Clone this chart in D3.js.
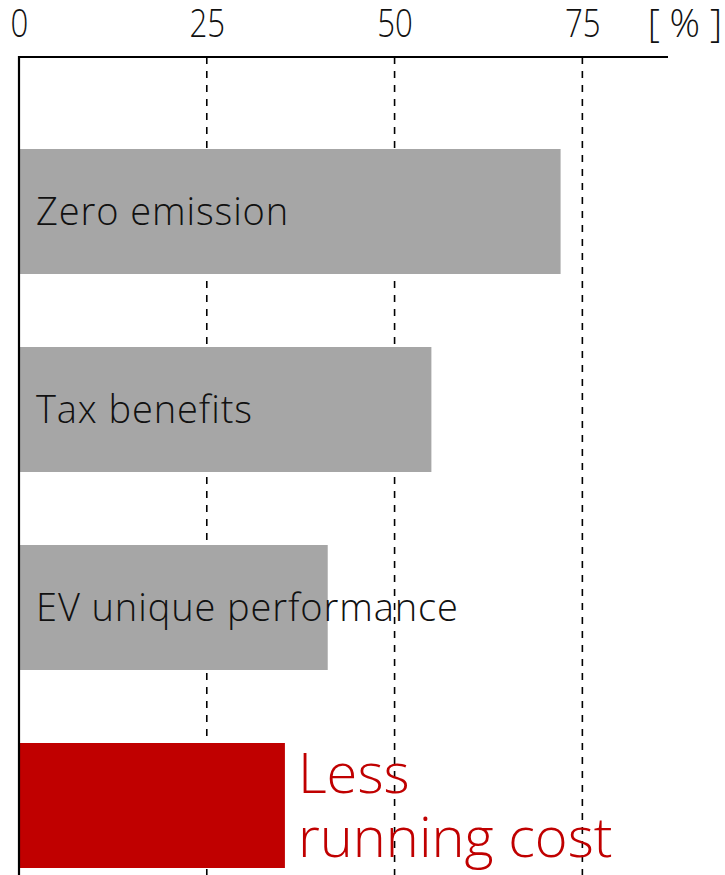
<!DOCTYPE html>
<html>
<head>
<meta charset="utf-8">
<script src="https://cdn.jsdelivr.net/npm/d3@7"></script>
<style>
  html, body { margin: 0; padding: 0; background: #fff; }
  svg { display: block; }
</style>
</head>
<body>
<svg id="chart" width="725" height="875"></svg>
<script>
// Reasons for choosing an EV, share of respondents [%]
const categories = ["Zero emission", "Tax benefits", "EV unique performance", "Less running cost"];
const values = [72.1, 54.9, 41.1, 35.4];
const tickValues = [0, 25, 50, 75];
const unitLabel = "[ % ]";
const highlightLines = ["Less", "running cost"];

const W = 725, H = 875;
const svg = d3.select("#chart");

const x = d3.scaleLinear().domain([0, 86.4]).range([19, 668]);
const y = d3.scaleBand()
  .domain(categories)
  .range([112.5, 904.5])
  .paddingInner(73 / 198)
  .paddingOuter(73 / 396);

const axisTop = 57;
const gray = "#a6a6a6";
const red = "#c00000";
const labelFont = "'Open Sans', 'Noto Sans', sans-serif";

// dashed gridlines
svg.append("g")
  .selectAll("line")
  .data(tickValues.filter(d => d > 0))
  .join("line")
  .attr("x1", d => x(d)).attr("x2", d => x(d))
  .attr("y1", axisTop).attr("y2", H)
  .attr("stroke", "#000")
  .attr("stroke-width", 1.6)
  .attr("stroke-dasharray", "7,7");

// bars
svg.append("g")
  .selectAll("rect")
  .data(categories)
  .join("rect")
  .attr("x", x(0))
  .attr("y", d => y(d))
  .attr("width", (d, i) => x(values[i]) - x(0))
  .attr("height", y.bandwidth())
  .attr("fill", (d, i) => i === categories.length - 1 ? red : gray);

// top axis with narrow light tick labels
const xAxis = d3.axisTop(x).tickValues(tickValues).tickSize(0).tickPadding(20);
const gx = svg.append("g").attr("transform", `translate(0,${axisTop})`).call(xAxis);
gx.select(".domain").attr("stroke", "#000").attr("stroke-width", 2.2).attr("d", `M${x(0)},0H${x.range()[1]}`);
gx.selectAll(".tick text")
  .attr("font-family", labelFont)
  .attr("font-weight", 300)
  .attr("font-size", 39)
  .attr("fill", "#111")
  .attr("transform", "scale(0.8,1)");

svg.append("text")
  .attr("transform", "translate(722,37) scale(0.97,1)")
  .attr("text-anchor", "end")
  .attr("font-family", labelFont)
  .attr("font-weight", 300)
  .attr("font-size", 39)
  .attr("fill", "#111")
  .text(unitLabel);

// left axis line
svg.append("line")
  .attr("x1", x(0)).attr("x2", x(0))
  .attr("y1", axisTop - 1).attr("y2", H)
  .attr("stroke", "#000").attr("stroke-width", 2.2);

// labels inside grey bars
svg.append("g")
  .selectAll("text")
  .data(categories.slice(0, 3))
  .join("text")
  .attr("x", 36)
  .attr("y", d => y(d) + y.bandwidth() / 2 + 13.5)
  .attr("font-family", labelFont)
  .attr("font-weight", 300)
  .attr("font-size", 38)
  .attr("letter-spacing", 0.9)
  .attr("fill", "#111")
  .text(d => d);

// highlighted category label beside the red bar
const last = categories[categories.length - 1];
const hl = svg.append("text")
  .attr("y", y(last) + 50)
  .attr("font-family", labelFont)
  .attr("font-weight", 300)
  .attr("font-size", 56)
  .attr("fill", red);
hl.selectAll("tspan")
  .data(highlightLines)
  .join("tspan")
  .attr("x", x(values[values.length - 1]) + 13)
  .attr("dy", (d, i) => i === 0 ? 0 : 64)
  .text(d => d);
</script>
</body>
</html>
